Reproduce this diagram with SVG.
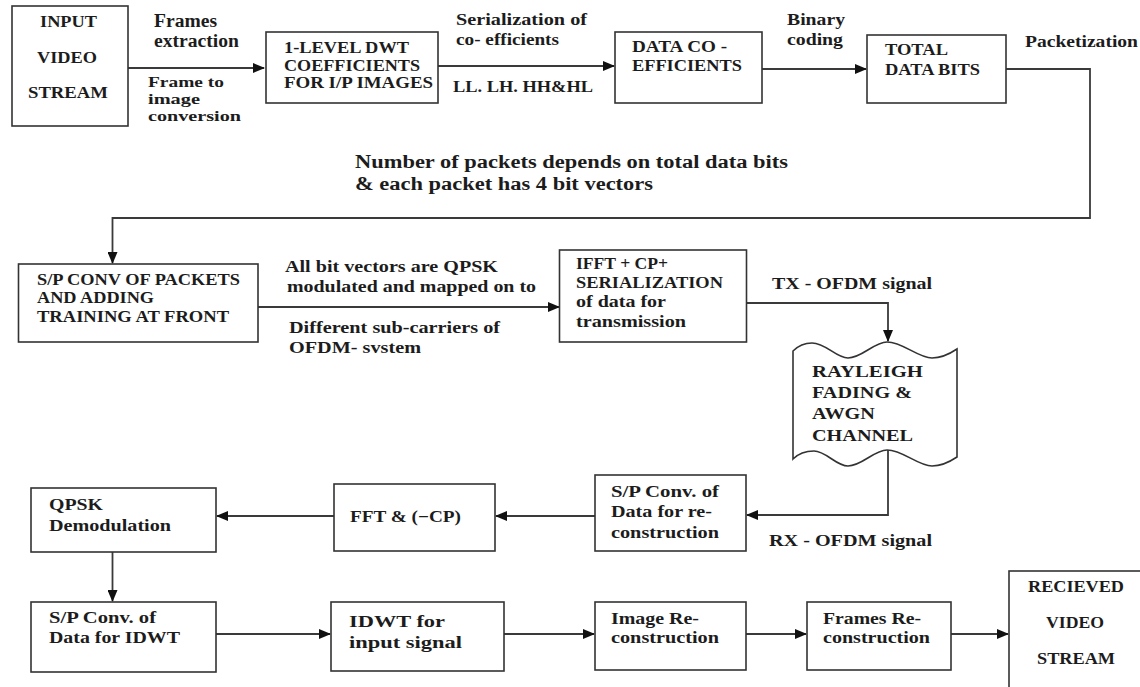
<svg xmlns="http://www.w3.org/2000/svg" width="1140" height="687" viewBox="0 0 1140 687">
<defs>
<style>
.box{fill:#fff;stroke:#333;stroke-width:1.6}
.ln{fill:none;stroke:#3a3a3a;stroke-width:1.8}
text{font-family:"Liberation Serif","Times New Roman",serif;font-weight:bold;fill:#1c1c1c}
.s15{font-size:15px}.s16{font-size:16px}.s17{font-size:17px}.s18{font-size:18px}
</style>
<marker id="ah" markerWidth="12" markerHeight="10" refX="11" refY="5" orient="auto" markerUnits="userSpaceOnUse">
<path d="M0,0 L12,5 L0,10 Z" fill="#111"/>
</marker>
</defs>
<rect width="1140" height="687" fill="#fff"/>

<g id="connectors">
<path class="ln" d="M128,68 H264" marker-end="url(#ah)"/>
<path class="ln" d="M438,66 H614" marker-end="url(#ah)"/>
<path class="ln" d="M762,69 H866" marker-end="url(#ah)"/>
<path class="ln" d="M1006,69 H1090 V218 H112.5 V263" marker-end="url(#ah)"/>
<path class="ln" d="M258,307 H559" marker-end="url(#ah)"/>
<path class="ln" d="M747,303 H888 V341" marker-end="url(#ah)"/>
<path class="ln" d="M888,450 V515 H747" marker-end="url(#ah)"/>
<path class="ln" d="M595,516 H496" marker-end="url(#ah)"/>
<path class="ln" d="M334,516 H217" marker-end="url(#ah)"/>
<path class="ln" d="M112.5,551 V601" marker-end="url(#ah)"/>
<path class="ln" d="M216,634 H330" marker-end="url(#ah)"/>
<path class="ln" d="M504,634 H594" marker-end="url(#ah)"/>
<path class="ln" d="M746,634 H806" marker-end="url(#ah)"/>
<path class="ln" d="M951,634 H1008" marker-end="url(#ah)"/>
</g>

<g id="edge-labels">
<text class="s18" x="154" y="27" textLength="63" lengthAdjust="spacingAndGlyphs">Frames</text>
<text class="s18" x="154" y="47" textLength="85" lengthAdjust="spacingAndGlyphs">extraction</text>
<text class="s15" x="148" y="87" textLength="76" lengthAdjust="spacingAndGlyphs">Frame to</text>
<text class="s15" x="148" y="104" textLength="52" lengthAdjust="spacingAndGlyphs">image</text>
<text class="s15" x="148" y="121" textLength="93" lengthAdjust="spacingAndGlyphs">conversion</text>
<text class="s17" x="456" y="25" textLength="131" lengthAdjust="spacingAndGlyphs">Serialization  of</text>
<text class="s17" x="456" y="45" textLength="103" lengthAdjust="spacingAndGlyphs">co- efficients</text>
<text class="s16" x="453" y="92" textLength="140" lengthAdjust="spacingAndGlyphs">LL. LH. HH&amp;HL</text>
<text class="s17" x="787" y="25" textLength="58" lengthAdjust="spacingAndGlyphs">Binary</text>
<text class="s17" x="787" y="45" textLength="56" lengthAdjust="spacingAndGlyphs">coding</text>
<text class="s17" x="1025" y="47" textLength="113" lengthAdjust="spacingAndGlyphs">Packetization</text>
<text class="s18" x="355" y="168" textLength="433" lengthAdjust="spacingAndGlyphs">Number of packets  depends  on total data  bits</text>
<text class="s18" x="355" y="190" textLength="298" lengthAdjust="spacingAndGlyphs">&amp; each packet has 4 bit vectors</text>
<text class="s17" x="285" y="272" textLength="213" lengthAdjust="spacingAndGlyphs">All bit vectors  are QPSK</text>
<text class="s17" x="287" y="292" textLength="249" lengthAdjust="spacingAndGlyphs">modulated and mapped on to</text>
<text class="s17" x="289" y="333" textLength="211" lengthAdjust="spacingAndGlyphs">Different sub-carriers of</text>
<text class="s17" x="289" y="353" textLength="132" lengthAdjust="spacingAndGlyphs">OFDM- svstem</text>
<text class="s17" x="772" y="289" textLength="160" lengthAdjust="spacingAndGlyphs">TX - OFDM signal</text>
<text class="s17" x="769" y="546" textLength="163" lengthAdjust="spacingAndGlyphs">RX - OFDM signal</text>
</g>

<g id="input-video-stream">
<rect class="box" x="12" y="6" width="116" height="120"/>
<text class="s17" x="40" y="27" textLength="57" lengthAdjust="spacingAndGlyphs">INPUT</text>
<text class="s17" x="37" y="63" textLength="60" lengthAdjust="spacingAndGlyphs">VIDEO</text>
<text class="s17" x="28" y="98" textLength="80" lengthAdjust="spacingAndGlyphs">STREAM</text>
</g>

<g id="dwt-coefficients">
<rect class="box" x="266" y="32" width="172" height="71"/>
<text class="s16" x="284" y="53" textLength="125" lengthAdjust="spacingAndGlyphs">1-LEVEL DWT</text>
<text class="s16" x="284" y="71" textLength="136" lengthAdjust="spacingAndGlyphs">COEFFICIENTS</text>
<text class="s16" x="284" y="88" textLength="149" lengthAdjust="spacingAndGlyphs">FOR I/P IMAGES</text>
</g>

<g id="data-coefficients">
<rect class="box" x="615" y="32" width="147" height="71"/>
<text class="s16" x="632" y="52" textLength="95" lengthAdjust="spacingAndGlyphs">DATA CO -</text>
<text class="s16" x="632" y="71" textLength="110" lengthAdjust="spacingAndGlyphs">EFFICIENTS</text>
</g>

<g id="total-data-bits">
<rect class="box" x="867" y="35" width="139" height="68"/>
<text class="s16" x="885" y="55" textLength="63" lengthAdjust="spacingAndGlyphs">TOTAL</text>
<text class="s16" x="885" y="75" textLength="95" lengthAdjust="spacingAndGlyphs">DATA BITS</text>
</g>

<g id="sp-conv-packets">
<rect class="box" x="18.5" y="264" width="239.5" height="78"/>
<text class="s16" x="37" y="285" textLength="203" lengthAdjust="spacingAndGlyphs">S/P CONV OF PACKETS</text>
<text class="s16" x="37" y="303" textLength="117" lengthAdjust="spacingAndGlyphs">AND ADDING</text>
<text class="s16" x="37" y="322" textLength="192" lengthAdjust="spacingAndGlyphs">TRAINING AT FRONT</text>
</g>

<g id="ifft-cp">
<rect class="box" x="559.5" y="250" width="187" height="92"/>
<text class="s16" x="576" y="269" textLength="92" lengthAdjust="spacingAndGlyphs">IFFT + CP+</text>
<text class="s16" x="576" y="288" textLength="147" lengthAdjust="spacingAndGlyphs">SERIALIZATION</text>
<text class="s16" x="576" y="307" textLength="90" lengthAdjust="spacingAndGlyphs">of data for</text>
<text class="s16" x="576" y="327" textLength="110" lengthAdjust="spacingAndGlyphs">transmission</text>
</g>

<g id="channel">
<path class="box" d="M793,351 C798,346 804,343 812,343 C826,343 836,358 848,358 C862,358 874,342 887,342 C903,342 918,358 932,358 C943,358 951,353 957,349 L957,457 C951,461 943,466 932,466 C918,466 903,450 887,450 C874,450 862,466 848,466 C836,466 826,451 814,451 C805,451 798,454 793,459 Z"/>
<text class="s17" x="812" y="377" textLength="111" lengthAdjust="spacingAndGlyphs">RAYLEIGH</text>
<text class="s17" x="812" y="398" textLength="100" lengthAdjust="spacingAndGlyphs">FADING &amp;</text>
<text class="s17" x="812" y="419" textLength="63" lengthAdjust="spacingAndGlyphs">AWGN</text>
<text class="s17" x="812" y="441" textLength="101" lengthAdjust="spacingAndGlyphs">CHANNEL</text>
</g>

<g id="sp-conv-reconstruction">
<rect class="box" x="595" y="475" width="151" height="76"/>
<text class="s16" x="611" y="497" textLength="108" lengthAdjust="spacingAndGlyphs">S/P Conv. of</text>
<text class="s16" x="611" y="517" textLength="101" lengthAdjust="spacingAndGlyphs">Data for re-</text>
<text class="s16" x="611" y="538" textLength="108" lengthAdjust="spacingAndGlyphs">construction</text>
</g>

<g id="fft-cp">
<rect class="box" x="334" y="484" width="161" height="67"/>
<text class="s16" x="350" y="522" textLength="111" lengthAdjust="spacingAndGlyphs">FFT &amp; (−CP)</text>
</g>

<g id="qpsk-demodulation">
<rect class="box" x="31" y="488" width="185" height="64"/>
<text class="s16" x="49" y="510" textLength="54" lengthAdjust="spacingAndGlyphs">QPSK</text>
<text class="s16" x="49" y="531" textLength="122" lengthAdjust="spacingAndGlyphs">Demodulation</text>
</g>

<g id="sp-conv-idwt">
<rect class="box" x="31" y="602" width="185" height="70"/>
<text class="s16" x="49" y="623" textLength="107" lengthAdjust="spacingAndGlyphs">S/P Conv. of</text>
<text class="s16" x="49" y="643" textLength="131" lengthAdjust="spacingAndGlyphs">Data for IDWT</text>
</g>

<g id="idwt">
<rect class="box" x="331" y="602" width="173" height="69"/>
<text class="s17" x="349" y="627" textLength="96" lengthAdjust="spacingAndGlyphs">IDWT for</text>
<text class="s17" x="349" y="648" textLength="113" lengthAdjust="spacingAndGlyphs">input signal</text>
</g>

<g id="image-reconstruction">
<rect class="box" x="595" y="602" width="151" height="68"/>
<text class="s16" x="611" y="624" textLength="88" lengthAdjust="spacingAndGlyphs">Image Re-</text>
<text class="s16" x="611" y="643" textLength="108" lengthAdjust="spacingAndGlyphs">construction</text>
</g>

<g id="frames-reconstruction">
<rect class="box" x="807" y="602" width="144" height="68"/>
<text class="s16" x="823" y="624" textLength="98" lengthAdjust="spacingAndGlyphs">Frames Re-</text>
<text class="s16" x="823" y="643" textLength="107" lengthAdjust="spacingAndGlyphs">construction</text>
</g>

<g id="received-video-stream">
<rect class="box" x="1009" y="571" width="134" height="130"/>
<text class="s16" x="1028" y="592" textLength="96" lengthAdjust="spacingAndGlyphs">RECIEVED</text>
<text class="s16" x="1046" y="628" textLength="58" lengthAdjust="spacingAndGlyphs">VIDEO</text>
<text class="s16" x="1037" y="664" textLength="78" lengthAdjust="spacingAndGlyphs">STREAM</text>
</g>
</svg>
